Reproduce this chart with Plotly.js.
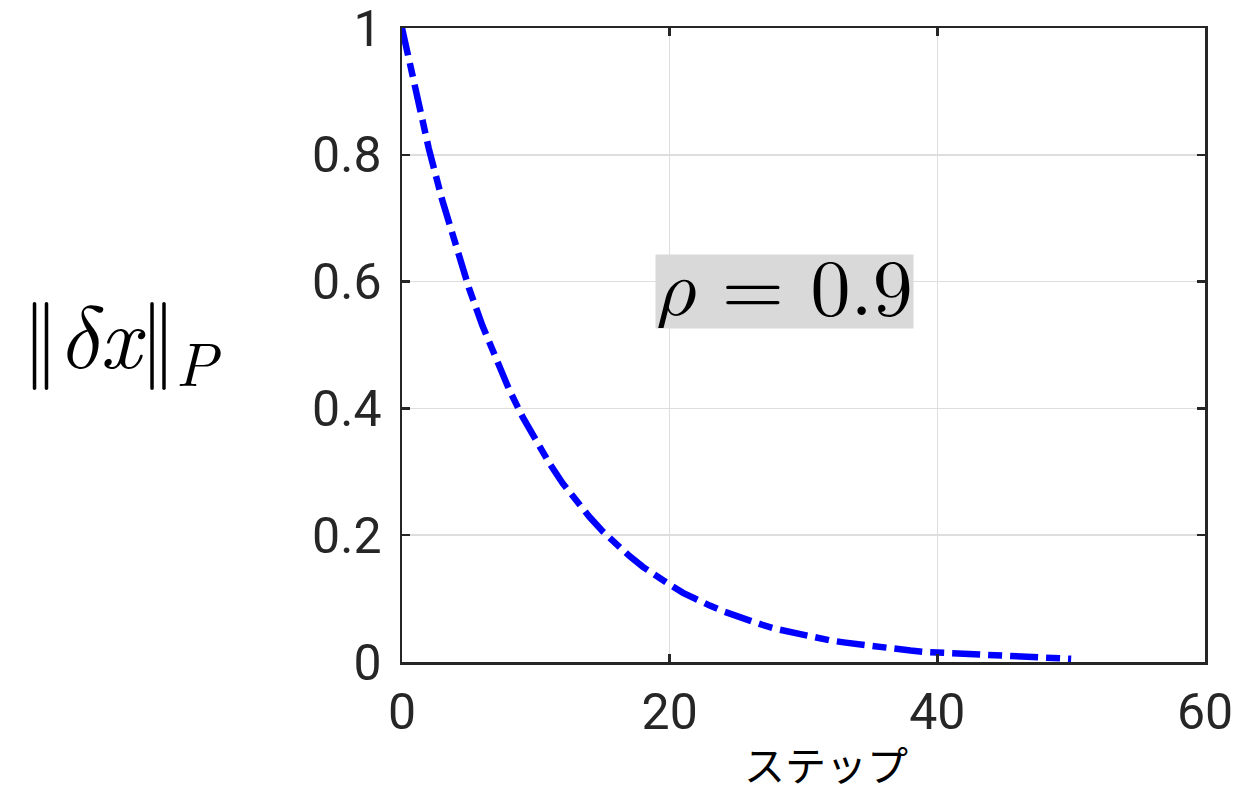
<!DOCTYPE html>
<html>
<head>
<meta charset="utf-8">
<script src="https://cdn.plot.ly/plotly-3.0.1.min.js"></script>
<style>html,body{margin:0;padding:0;background:#fff;}#chart{width:1237px;height:789px;}</style>
</head>
<body>
<div id="chart"></div>
<script>
// Data
const steps = [0,1,2,3,4,5,6,7,8,9,10,11,12,13,14,15,16,17,18,19,20,21,22,23,24,25,26,27,28,29,30,31,32,33,34,35,36,37,38,39,40,41,42,43,44,45,46,47,48,49,50];
const normValues = [1.000,0.900,0.810,0.729,0.656,0.590,0.531,0.478,0.430,0.387,0.349,0.314,0.282,0.254,0.229,0.206,0.185,0.167,0.150,0.135,0.122,0.109,0.098,0.089,0.080,0.072,0.065,0.058,0.052,0.047,0.042,0.038,0.034,0.031,0.028,0.025,0.022,0.020,0.018,0.016,0.015,0.013,0.012,0.011,0.010,0.009,0.008,0.007,0.006,0.006,0.005];
const xTicks = [0,20,40,60];
const yTicks = [0,0.2,0.4,0.6,0.8,1];
const yTickLabels = ['0','0.2','0.4','0.6','0.8','1'];
const xLabel = 'ステップ';
const yLabel = '‖<i>δ</i><span style="font-family:Latin Modern Roman"><i>x</i></span>‖<sub><span style="font-family:Latin Modern Roman"><i>P</i></span></sub>';
const rhoText = '<i>ρ</i> = 0.9';

const tickFont = {family: 'Roboto', size: 50, color: '#262626'};
const serif = 'Latin Modern Math';

const trace = {
  x: steps, y: normValues, type: 'scatter', mode: 'lines',
  line: {color: '#0000ff', width: 6.5, dash: '28px,8px,14px,8px'},
  hoverinfo: 'skip', cliponaxis: false
};

const axisCommon = {
  showline: true, linecolor: '#262626', linewidth: 2.5, mirror: 'ticks',
  ticks: 'inside', ticklen: 8, tickwidth: 2.5, tickcolor: '#262626',
  showgrid: true, gridcolor: '#dedede', gridwidth: 1.5, zeroline: false,
  tickfont: tickFont, fixedrange: true, ticklabeloverflow: 'allow'
};

const layout = {
  width: 1237, height: 789,
  margin: {l: 402, r: 32, t: 28, b: 127},
  paper_bgcolor: '#ffffff', plot_bgcolor: '#ffffff',
  showlegend: false,
  xaxis: Object.assign({}, axisCommon, {range: [0, 60], tickvals: xTicks, ticklabelstandoff: 4}),
  yaxis: Object.assign({}, axisCommon, {range: [0, 1], tickvals: yTicks, ticktext: yTickLabels, ticklabelstandoff: 8}),
  annotations: [
    {xref: 'paper', yref: 'paper', x: (826-402)/803, y: -(763-662)/634, text: xLabel, showarrow: false,
     font: {family: 'Noto Sans CJK JP', size: 41, color: '#000'}, xanchor: 'center', yanchor: 'middle'},
    {xref: 'paper', yref: 'paper', x: (122-402)/803, y: (662-336)/634, text: yLabel, showarrow: false,
     font: {family: serif, size: 88, color: '#000'}, xanchor: 'center', yanchor: 'middle'},
    {xref: 'x', yref: 'y', x: 28.6, y: 0.584, text: rhoText, showarrow: false,
     font: {family: serif, size: 80, color: '#000'},
     bgcolor: '#d9d9d9', borderpad: 0, xanchor: 'center', yanchor: 'middle', width: 257, height: 73}
  ]
};

Plotly.newPlot('chart', [trace], layout, {staticPlot: true, displayModeBar: false});
</script>
</body>
</html>
